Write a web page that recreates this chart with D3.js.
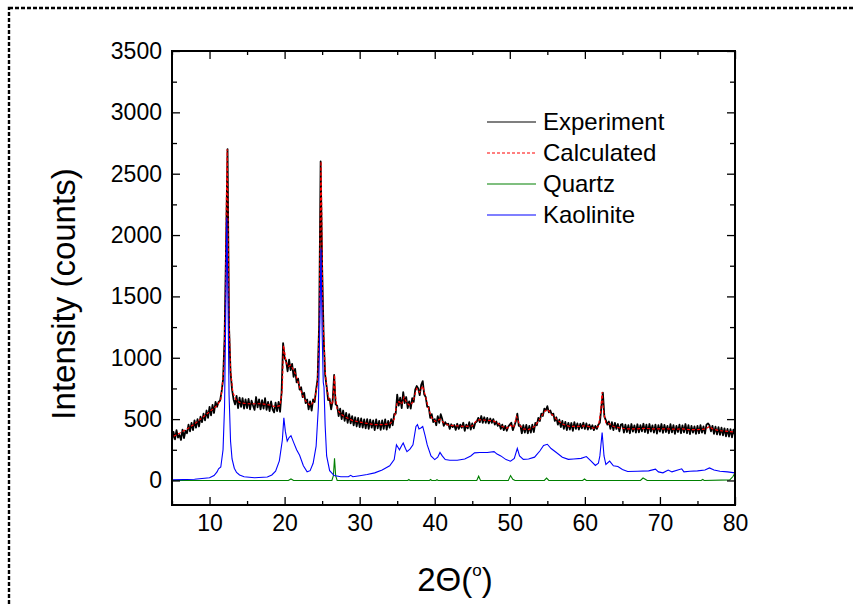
<!DOCTYPE html>
<html><head><meta charset="utf-8">
<script src="https://cdn.jsdelivr.net/npm/d3@7"></script>
<style>body{margin:0;background:#fff}svg{display:block}text{font-family:Arial,"Liberation Sans",sans-serif;fill:#000}</style>
</head><body><svg id="c" width="853" height="604"></svg>
<script>
// ---- data ----
const xStart = 5, xStep = 0.2;
const experiment = [
320,395,335,410,350,370,330,415,345,405,
385,455,400,470,410,490,430,500,440,520,
475,545,490,570,510,600,530,615,550,640,
600,640,650,720,820,1150,1900,2700,1250,880,
740,660,620,690,590,675,600,670,585,660,
590,665,580,650,610,575,680,595,660,580,
655,585,670,575,640,565,645,580,555,635,
565,640,560,720,1120,1000,975,890,985,900,
950,845,910,800,830,740,760,680,715,630,
660,580,645,570,660,640,740,830,1270,2600,
1750,1170,860,765,655,665,580,650,860,620,
610,525,585,500,570,485,550,470,540,465,
525,450,515,440,510,435,505,430,498,425,
500,420,495,430,490,410,498,425,485,412,
490,420,498,415,485,430,500,450,540,545,
700,610,675,590,720,630,680,590,645,585,
670,640,740,770,750,695,780,810,700,680,
600,600,510,540,475,500,450,525,470,540,
500,445,475,455,462,420,458,435,452,412,
462,420,455,430,470,405,455,425,475,415,
465,425,470,480,510,475,525,470,515,470,
510,465,505,470,500,455,480,445,465,420,
455,410,445,405,440,455,470,410,445,480,
545,445,450,385,450,390,452,385,445,390,
455,395,470,450,510,485,545,525,585,570,
605,555,570,535,545,485,515,455,495,435,
485,420,478,410,470,415,468,405,475,420,
465,415,462,425,470,420,465,415,455,420,
450,410,445,420,455,470,600,715,520,490,
455,480,420,475,410,470,420,460,400,455,
460,390,455,395,450,385,460,398,448,390,
458,392,450,400,462,395,455,385,460,398,
448,390,455,382,450,398,460,388,452,395,
445,385,458,392,450,380,445,395,455,385,
448,392,460,385,450,378,445,390,440,380,
445,385,450,390,440,382,455,465,450,400,
445,380,438,375,435,372,430,368,425,360,
420,358,418,352,415,368
];
const calculated = [
[5.0,0],[5.05,355],[6,385],[7,420],[8,460],[9,510],[10,560],[10.5,585],[11,610],[11.5,660],[11.9,900],[12.1,1400],[12.25,2300],[12.35,2700],[12.45,2200],[12.6,1300],[12.8,900],[13.1,720],[13.5,660],[14,635],[15,625],[16,625],[17,625],[18,615],[18.8,600],[19.4,610],[19.7,750],[19.85,1100],[20.0,1050],[20.2,960],[20.5,930],[20.8,940],[21.1,910],[21.5,860],[22,760],[22.5,680],[23,630],[23.5,610],[24,660],[24.4,800],[24.6,1200],[24.75,2100],[24.85,2600],[24.95,2200],[25.1,1300],[25.25,1150],[25.4,900],[25.6,760],[26,640],[26.4,620],[26.55,760],[26.65,860],[26.75,700],[27,580],[27.5,540],[28,520],[29,490],[30,475],[31,465],[32,455],[33,455],[34,460],[34.6,500],[35.0,640],[35.3,640],[35.6,620],[35.9,680],[36.3,630],[36.7,610],[37.1,640],[37.6,750],[38.0,720],[38.4,770],[38.8,680],[39.2,580],[39.6,510],[40.1,480],[40.7,500],[41.2,470],[41.8,450],[43,445],[44,440],[45,445],[45.6,490],[46,495],[47,490],[47.8,485],[48.3,470],[49,440],[49.6,425],[50.1,450],[50.5,430],[50.9,520],[51.3,450],[51.8,420],[52.5,415],[53.3,440],[54,500],[54.6,560],[55.0,580],[55.5,545],[56.2,500],[57,460],[58,440],[59,440],[60,445],[60.5,440],[61.2,425],[61.8,440],[62.1,560],[62.3,720],[62.5,560],[62.8,470],[63.3,460],[63.8,440],[64.5,430],[65.5,420],[67,420],[68,425],[69,420],[70,420],[71,420],[72,418],[73,420],[74,415],[75,415],[76,418],[76.6,440],[77,420],[78,405],[79,400],[80,395]
];
const kaolinite = [
[5,5],[8,10],[10,22],[10.6,40],[11.0,70],[11.2,95],[11.5,110],[11.8,250],[12.0,600],[12.15,1300],[12.3,2140],[12.45,1500],[12.6,700],[12.8,320],[13.0,175],[13.3,100],[13.6,65],[14,45],[14.6,30],[16,22],[17.7,28],[18.3,45],[18.8,75],[19.3,160],[19.7,330],[19.9,510],[20.1,400],[20.35,320],[20.6,350],[20.85,365],[21.2,310],[21.6,250],[22,205],[22.5,120],[23.0,70],[23.4,80],[23.8,140],[24.2,280],[24.5,600],[24.7,1300],[24.85,1890],[25.0,1200],[25.15,800],[25.25,760],[25.4,450],[25.6,200],[26.0,80],[26.6,40],[27.5,30],[28.5,30],[28.8,42],[29.1,30],[30,38],[31,48],[32,62],[33,85],[34,120],[34.6,170],[34.9,290],[35.1,270],[35.3,250],[35.6,285],[35.8,305],[36.1,260],[36.3,235],[36.7,255],[37.1,290],[37.5,440],[37.7,455],[37.9,420],[38.2,430],[38.4,440],[38.7,370],[39.0,290],[39.5,200],[40.0,170],[40.4,190],[40.7,228],[41.0,200],[41.4,170],[42,165],[43,165],[44,175],[44.8,200],[45.3,225],[46,228],[47,228],[47.9,235],[48.3,215],[48.8,200],[49.5,170],[50.1,157],[50.6,180],[51.0,262],[51.3,200],[51.8,172],[52.5,175],[53.3,190],[54,240],[54.5,285],[55.0,295],[55.5,260],[56.2,228],[57,190],[57.8,172],[58.5,175],[59.5,180],[60.2,195],[60.8,160],[61.4,122],[61.8,140],[62.0,200],[62.3,391],[62.55,200],[62.8,130],[63.3,158],[63.8,120],[64.4,114],[65.0,90],[65.7,73],[67,75],[68.5,78],[69.4,92],[69.8,70],[70.4,62],[71.1,85],[71.6,70],[72.9,95],[73.2,70],[74,75],[75,78],[76.0,85],[76.6,102],[77.2,85],[78,75],[79,70],[80,62]
];
const quartz = [
[5,0],[20.5,0],[20.85,12],[21.2,0],[26.3,0],[26.5,40],[26.65,180],[26.8,40],[27.0,0],[36.4,0],[36.55,8],[36.7,0],[39.3,0],[39.45,8],[39.6,0],[40.15,0],[40.3,6],[40.45,0],[45.6,0],[45.85,35],[46.1,0],[49.8,0],[50.1,40],[50.4,10],[50.7,0],[54.6,0],[54.9,20],[55.2,0],[59.7,0],[59.95,12],[60.2,0],[67.4,0],[67.75,20],[68.1,8],[68.3,0],[75.5,0],[75.7,8],[75.9,0],[79.3,5],[79.7,30],[80,60]
];
const xMajor = [10,20,30,40,50,60,70,80];
const xMinor = [5,15,25,35,45,55,65,75];
const yMajor = [0,500,1000,1500,2000,2500,3000,3500];
const yMinor = [250,750,1250,1750,2250,2750,3250];
const legendNames = ["Experiment","Calculated","Quartz","Kaolinite"];
const legendColors = ["#000000","#ff0000","#008000","#0000ff"];
const legendDash = [null,"3,2",null,null];

// ---- drawing ----
const svg = d3.select("#c");
const L=172, R=735, T=51, B=505;
const x = d3.scaleLinear().domain([5,80]).range([L,R]);
const y = d3.scaleLinear().domain([-200,3500]).range([B,T]);

// dashed outer border
svg.append("rect").attr("x",9).attr("y",8).attr("width",900).attr("height",700)
  .attr("fill","none").attr("stroke","#000").attr("stroke-width",2.4).attr("stroke-dasharray","4,2");

svg.append("defs").append("clipPath").attr("id","clip").append("rect")
  .attr("x",L).attr("y",T).attr("width",R-L).attr("height",B-T);

const g = svg.append("g").attr("clip-path","url(#clip)");
const line = d3.line().x(d=>x(d[0])).y(d=>y(d[1]));
const expPts = experiment.map((v,i)=>[xStart+i*xStep, v]);

g.append("path").datum(expPts).attr("d",line).attr("fill","none").attr("stroke","#000").attr("stroke-width",1.8).attr("stroke-linejoin","round");
g.append("path").datum(calculated).attr("d",line).attr("fill","none").attr("stroke","#ff0000").attr("stroke-width",1.2).attr("stroke-dasharray","3,2");
g.append("path").datum(quartz).attr("d",line).attr("fill","none").attr("stroke","#008000").attr("stroke-width",1.1);
g.append("path").datum(kaolinite).attr("d",line).attr("fill","none").attr("stroke","#0000ff").attr("stroke-width",1.1);

// axes
function styleAxis(sel){ sel.select(".domain").remove(); sel.selectAll("line").attr("stroke","#000").attr("stroke-width",1.3); sel.selectAll("text").attr("font-size",23).attr("font-family","Arial, 'Liberation Sans', sans-serif"); }
svg.append("g").attr("transform",`translate(0,${B})`).call(d3.axisBottom(x).tickValues(xMajor).tickSize(-8).tickPadding(10).tickFormat(d3.format("d"))).call(styleAxis);
svg.append("g").attr("transform",`translate(0,${B})`).call(d3.axisBottom(x).tickValues(xMinor).tickSize(-4).tickFormat("")).call(styleAxis);
svg.append("g").attr("transform",`translate(0,${T})`).call(d3.axisTop(x).tickValues(xMajor).tickSize(-8).tickFormat("")).call(styleAxis);
svg.append("g").attr("transform",`translate(0,${T})`).call(d3.axisTop(x).tickValues(xMinor).tickSize(-4).tickFormat("")).call(styleAxis);
svg.append("g").attr("transform",`translate(${L},0)`).call(d3.axisLeft(y).tickValues(yMajor).tickSize(-8).tickPadding(10).tickFormat(d3.format("d"))).call(styleAxis);
svg.append("g").attr("transform",`translate(${L},0)`).call(d3.axisLeft(y).tickValues(yMinor).tickSize(-5).tickFormat("")).call(styleAxis);
svg.append("g").attr("transform",`translate(${R},0)`).call(d3.axisRight(y).tickValues(yMajor).tickSize(-8).tickFormat("")).call(styleAxis);
svg.append("g").attr("transform",`translate(${R},0)`).call(d3.axisRight(y).tickValues(yMinor).tickSize(-5).tickFormat("")).call(styleAxis);

// frame
svg.append("rect").attr("x",L).attr("y",T).attr("width",R-L).attr("height",B-T)
  .attr("fill","none").attr("stroke","#000").attr("stroke-width",2);

// axis titles
svg.append("text").attr("transform","translate(75,294) rotate(-90)").attr("text-anchor","middle")
  .attr("font-size",33).text("Intensity (counts)");
const xt = svg.append("text").attr("x",455).attr("y",591).attr("text-anchor","middle").attr("font-size",33);
xt.append("tspan").text("2Θ(");
xt.append("tspan").attr("font-size",17).attr("dy",-15).text("o");
xt.append("tspan").attr("dy",15).text(")");

// legend
const lg = svg.append("g");
legendNames.forEach((n,i)=>{
  const yy = 122 + i*31;
  lg.append("line").attr("x1",487).attr("x2",536).attr("y1",yy).attr("y2",yy)
    .attr("stroke",legendColors[i]).attr("stroke-width",1.1).attr("stroke-dasharray",legendDash[i]);
  lg.append("text").attr("x",543).attr("y",yy+8).attr("font-size",24).text(n);
});
</script></body></html>
